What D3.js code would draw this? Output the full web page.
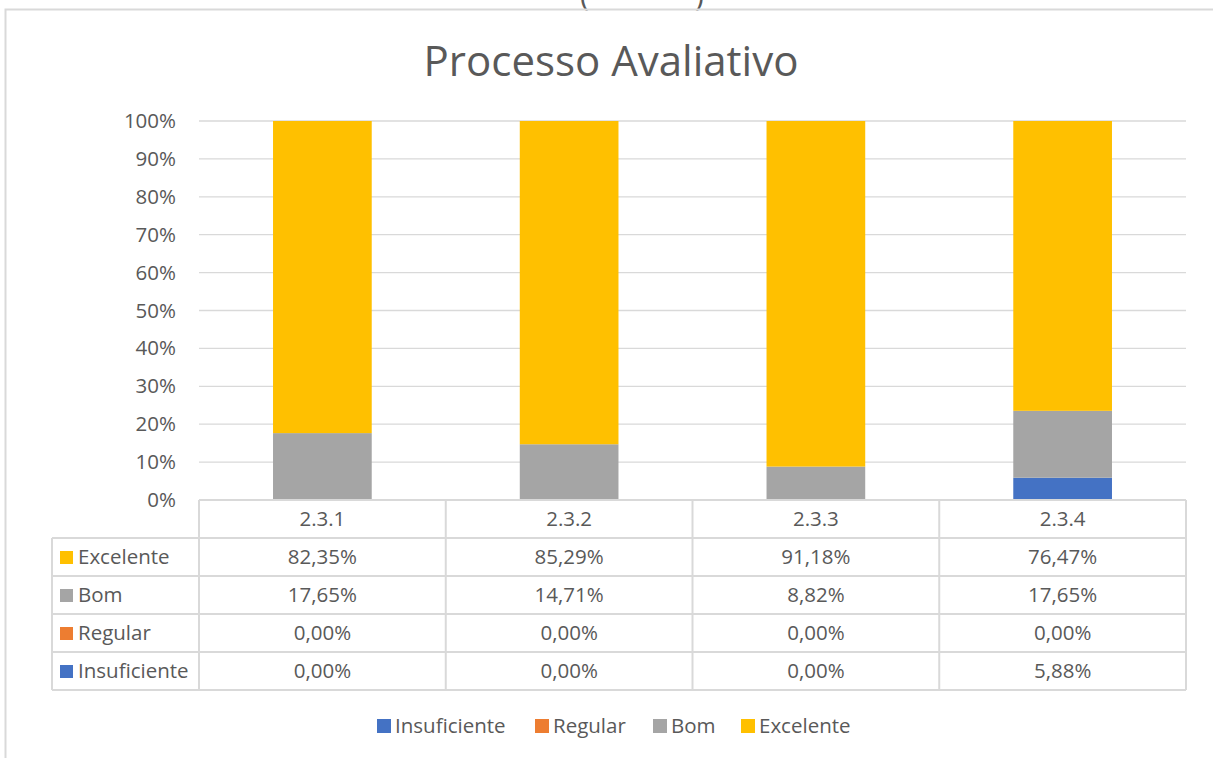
<!DOCTYPE html>
<html>
<head>
<meta charset="utf-8">
<script src="https://cdn.jsdelivr.net/npm/d3@7"></script>
<style>
  body { margin: 0; background: #fff; }
  svg text { font-family: "Open Sans", "Noto Sans", sans-serif; fill: #595959; }
</style>
</head>
<body>
<div id="chart"></div>
<script>
// values
var categories = ["2.3.1", "2.3.2", "2.3.3", "2.3.4"];
var seriesNames = ["Insuficiente", "Regular", "Bom", "Excelente"];
var insuficiente = [0, 0, 0, 5.88];
var regular = [0, 0, 0, 0];
var bom = [17.65, 14.71, 8.82, 17.65];
var excelente = [82.35, 85.29, 91.18, 76.47];
var yTicks = [0, 10, 20, 30, 40, 50, 60, 70, 80, 90, 100];
var colors = { Insuficiente: "#4472C4", Regular: "#ED7D31", Bom: "#A5A5A5", Excelente: "#FFC000" };

var values = { Insuficiente: insuficiente, Regular: regular, Bom: bom, Excelente: excelente };
var tableOrder = ["Excelente", "Bom", "Regular", "Insuficiente"];

var width = 1213, height = 758;
var plotLeft = 199, plotRight = 1186, plotTop = 121, plotBottom = 500;
var rowH = 38;
var fs = 20.5;

var svg = d3.select("#chart").append("svg")
    .attr("width", width)
    .attr("height", height);

// bits of the page above the chart (cut off in the original too)
svg.append("text").attr("x", 580).attr("y", 6).attr("font-size", 30).text("(");
svg.append("text").attr("x", 695).attr("y", 6).attr("font-size", 30).text(")");

// chart frame
svg.append("path")
    .attr("d", "M5.5,758 V9.5 H1213")
    .attr("fill", "none")
    .attr("stroke", "#d9d9d9")
    .attr("stroke-width", 2);

svg.append("text")
    .attr("x", 611).attr("y", 76)
    .attr("text-anchor", "middle")
    .attr("font-size", 42)
    .text("Processo Avaliativo");

var x = d3.scaleBand().domain(categories).range([plotLeft, plotRight]).paddingInner(0.6).paddingOuter(0.3);
var xCell = d3.scaleBand().domain(categories).range([plotLeft, plotRight]);
var y = d3.scaleLinear().domain([0, 100]).range([plotBottom, plotTop]);

// gridlines
svg.append("g").selectAll("line")
    .data(yTicks.filter(function(d) { return d > 0; }))
    .enter().append("line")
    .attr("x1", plotLeft).attr("x2", plotRight)
    .attr("y1", function(d) { return y(d); })
    .attr("y2", function(d) { return y(d); })
    .attr("stroke", "#d9d9d9")
    .attr("stroke-width", 1.3);

// y axis labels
var yAxis = d3.axisLeft(y).tickValues(yTicks).tickSize(0).tickPadding(0)
    .tickFormat(function(d) { return d + "%"; });
var ga = svg.append("g").attr("transform", "translate(176,0)").call(yAxis);
ga.select(".domain").remove();
ga.selectAll("text")
    .attr("font-size", fs)
    .attr("fill", "#595959")
    .style("font-family", "'Open Sans', sans-serif");

// stacked bars
var rows = categories.map(function(c, i) {
    var r = { cat: c };
    seriesNames.forEach(function(s) { r[s] = values[s][i]; });
    return r;
});
var stacked = d3.stack().keys(seriesNames)(rows);

svg.append("g").selectAll("g")
    .data(stacked)
    .enter().append("g")
    .attr("fill", function(d) { return colors[d.key]; })
    .selectAll("rect")
    .data(function(d) { return d; })
    .enter().append("rect")
    .attr("x", function(d) { return x(d.data.cat); })
    .attr("width", x.bandwidth())
    .attr("y", function(d) { return y(d[1]); })
    .attr("height", function(d) { return y(d[0]) - y(d[1]); });

// data table
var tbl = svg.append("g");
var lineColor = "#d9d9d9";
var tableLeft = 52;
var tableBottom = plotBottom + rowH * 5;

tbl.append("line").attr("x1", plotLeft).attr("x2", plotRight).attr("y1", plotBottom).attr("y2", plotBottom)
    .attr("stroke", lineColor).attr("stroke-width", 2);
d3.range(1, 6).forEach(function(i) {
    tbl.append("line")
        .attr("x1", tableLeft).attr("x2", plotRight)
        .attr("y1", plotBottom + i * rowH).attr("y2", plotBottom + i * rowH)
        .attr("stroke", lineColor).attr("stroke-width", 2);
});
categories.forEach(function(c) {
    tbl.append("line")
        .attr("x1", xCell(c)).attr("x2", xCell(c))
        .attr("y1", plotBottom).attr("y2", tableBottom)
        .attr("stroke", lineColor).attr("stroke-width", 2);
});
tbl.append("line").attr("x1", plotRight).attr("x2", plotRight).attr("y1", plotBottom).attr("y2", tableBottom)
    .attr("stroke", lineColor).attr("stroke-width", 2);
tbl.append("line").attr("x1", tableLeft).attr("x2", tableLeft).attr("y1", plotBottom + rowH).attr("y2", tableBottom)
    .attr("stroke", lineColor).attr("stroke-width", 2);

// header
tbl.selectAll(".hdr")
    .data(categories)
    .enter().append("text")
    .attr("x", function(d) { return xCell(d) + xCell.bandwidth() / 2; })
    .attr("y", plotBottom + rowH / 2 + 7)
    .attr("text-anchor", "middle")
    .attr("font-size", fs)
    .text(function(d) { return d; });

function fmt(v) { return v.toFixed(2).replace(".", ",") + "%"; }

tableOrder.forEach(function(s, r) {
    var cy = plotBottom + rowH * (r + 1) + rowH / 2;
    tbl.append("rect")
        .attr("x", 60).attr("y", cy - 6).attr("width", 13).attr("height", 13)
        .attr("fill", colors[s]);
    tbl.append("text")
        .attr("x", 78).attr("y", cy + 7)
        .attr("font-size", fs)
        .text(s);
    tbl.selectAll(".v" + r)
        .data(values[s])
        .enter().append("text")
        .attr("x", function(d, i) { return xCell(categories[i]) + xCell.bandwidth() / 2; })
        .attr("y", cy + 7)
        .attr("text-anchor", "middle")
        .attr("font-size", fs)
        .text(function(d) { return fmt(d); });
});

// legend
var legendX = [377, 535, 653, 741];
var lg = svg.append("g").selectAll("g")
    .data(seriesNames)
    .enter().append("g")
    .attr("transform", function(d, i) { return "translate(" + legendX[i] + ",726)"; });
lg.append("rect").attr("x", 0).attr("y", -7).attr("width", 14).attr("height", 14)
    .attr("fill", function(d) { return colors[d]; });
lg.append("text").attr("x", 18).attr("y", 7).attr("font-size", fs)
    .text(function(d) { return d; });
</script>
</body>
</html>
